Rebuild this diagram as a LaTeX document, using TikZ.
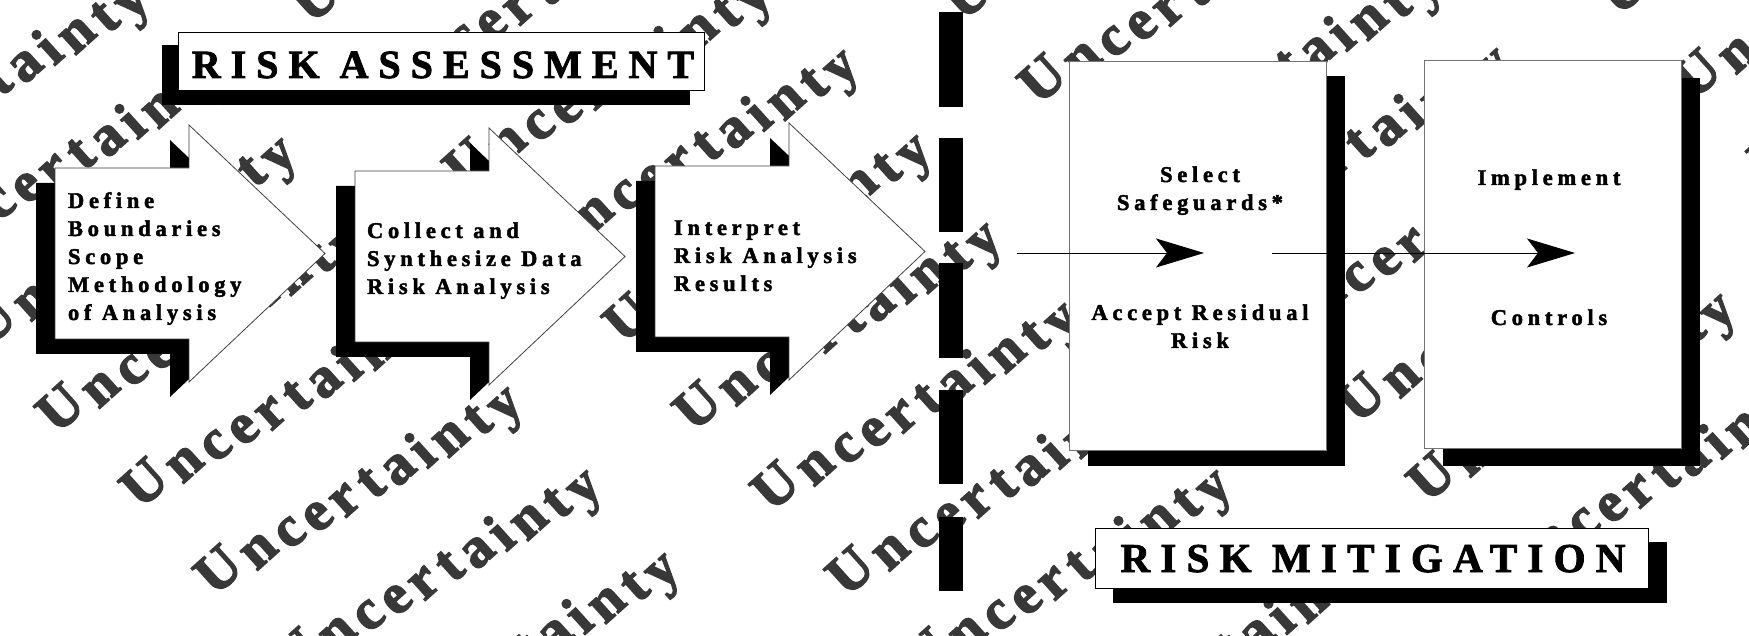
\documentclass[tikz,border=0pt]{standalone}
\usepackage{fontspec}
\setmainfont{Liberation Serif}
\newfontfamily\wmfam[FakeBold=2.5]{Liberation Serif}
\newfontfamily\lblfam[LetterSpace=21,FakeBold=2]{Liberation Serif}
\newfontfamily\ttlfam[LetterSpace=25,FakeBold=2]{Liberation Serif}
\usetikzlibrary{arrows.meta}
\tikzset{
  wmc/.style={inner sep=0pt, outer sep=0pt, anchor=base, rotate=42,
    text=black!78, font=\wmfam\bfseries\fontsize{57}{57}\selectfont},
  lbl/.style={inner sep=0pt, outer sep=0pt, font=\lblfam\bfseries\fontsize{22.5}{28}\selectfont},
  ttl/.style={inner sep=0pt, outer sep=0pt, anchor=base, font=\ttlfam\bfseries\fontsize{40}{40}\selectfont},
  shadowfill/.style={fill=black},
  panel/.style={fill=white, draw=black!55, line width=1.2pt},
  titlebox/.style={fill=white, draw=black, line width=0.9pt},
  conn/.style={draw=black, line width=0.9pt, -{Stealth[length=48pt, width=29pt, inset=11pt]}},
  pics/bigarrow/.style={code={
    \fill[black, shift={(-19,15)}] (0,0) -- (134,0) -- (134,-43) -- (270,85.5) -- (134,214) -- (134,171) -- (0,171) -- cycle;
    \filldraw[fill=white, draw=black!75, line width=0.8pt] (0,0) -- (134,0) -- (134,-43) -- (270,85.5) -- (134,214) -- (134,171) -- (0,171) -- cycle;
  }}
}
\begin{document}
\begin{tikzpicture}[x=1pt, y=-1pt]
\useasboundingbox (0,0) rectangle (1749,636);
\fill[white] (0,0) rectangle (1749,636);

% watermark: letters rotated more steeply than the line they sit on
\begin{scope}
\clip (0,0) rectangle (1749,636);
\foreach \ux/\uy [count=\i] in {
  -230/80, -152/164, -69/238, -5/318, 63/405, 147/480, 221/567, 300/650, 378/733,
  318/-5, 395/75, 470/160, 557/230, 630/315, 700/403, 778/483, 853/568, 930/650, 1080/733,
  970/-8, 1045/76, 1140/150, 1210/228, 1289/312, 1364/395, 1434/474, 1515/558,
  1625/-13, 1700/71, 1775/150}
{
  \foreach \ch/\off [count=\k] in {U/0,n/44,c/80,e/112,r/144,t/175,a/206,i/235,n/266,t/299,y/330}
    \node[wmc] (wm\i-\k) at (\ux+\off*0.862+9.4, \uy-\off*0.507+16.3) {\ch};
}
\end{scope}

% big process arrows
\pic at (55,168) {bigarrow};
\pic at (355,171) {bigarrow};
\pic at (655,166) {bigarrow};

% RISK ASSESSMENT title
\fill[shadowfill] (162,45) rectangle (690,105);
\node[titlebox, minimum width=526pt, minimum height=58pt, inner sep=0pt, anchor=north west] (rabox) at (178,32) {};
\node[ttl] (ratext) at (443,78) {RISK ASSESSMENT};

% dashed divider
\foreach \ya/\yb [count=\j] in {12/107, 138/232, 263/358, 390/484, 517/591}
  \fill[black] (939,\ya) rectangle (963,\yb);

% mitigation panels
\fill[shadowfill] (1088,76) rectangle (1345,466);
\node[panel, minimum width=257pt, minimum height=389pt, inner sep=0pt, anchor=north west] (sel) at (1069,61) {};
\fill[shadowfill] (1443,78) rectangle (1700,466);
\node[panel, minimum width=257pt, minimum height=388pt, inner sep=0pt, anchor=north west] (impl) at (1424,60) {};

% RISK MITIGATION title
\fill[shadowfill] (1113,542) rectangle (1667,603);
\node[titlebox, minimum width=553pt, minimum height=60pt, inner sep=0pt, anchor=north west] (rmbox) at (1095,528) {};
\node[ttl, font=\ttlfam\bfseries\fontsize{41}{41}\selectfont] (rmtext) at (1373,572) {RISK MITIGATION};

% arrow texts
\node[lbl, anchor=base west] (t1) at (68,208) {\begin{tabular}[t]{@{}l@{}}Define\\Boundaries\\Scope\\Methodology\\of Analysis\end{tabular}};
\node[lbl, anchor=base west] (t2) at (367,238) {\begin{tabular}[t]{@{}l@{}}Collect and\\Synthesize Data\\Risk Analysis\end{tabular}};
\node[lbl, anchor=base west] (t3) at (674,235) {\begin{tabular}[t]{@{}l@{}}Interpret\\Risk Analysis\\Results\end{tabular}};

% panel texts
\node[lbl, anchor=base] (t4) at (1200,182) {\begin{tabular}[t]{@{}c@{}}Select\\Safeguards*\end{tabular}};
\node[lbl, anchor=base] (t5) at (1200,320) {\begin{tabular}[t]{@{}c@{}}Accept Residual\\Risk\end{tabular}};
\node[lbl, anchor=base] (t6) at (1549,185) {Implement};
\node[lbl, anchor=base] (t7) at (1549,325) {Controls};

% connectors
\coordinate (c1s) at (1017,253);
\coordinate (c1e) at (1204,253);
\coordinate (c2s) at (1272,253);
\coordinate (c2e) at (1575,253);
\draw[conn] (c1s) -- (c1e);
\draw[conn] (c2s) -- (c2e);
\end{tikzpicture}
\end{document}
